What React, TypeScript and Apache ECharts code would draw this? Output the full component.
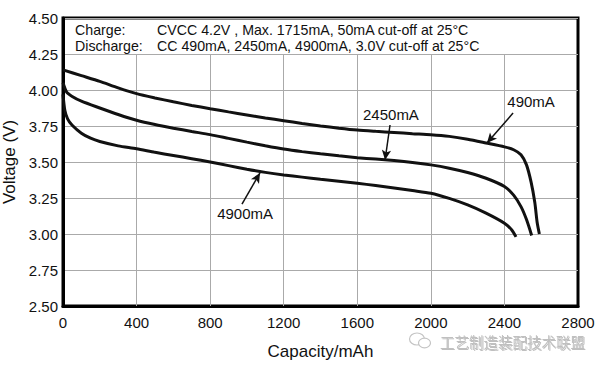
import React, { useEffect, useRef } from "react";
import * as echarts from "echarts";

// Axis ticks
const capacityTicks = [0, 400, 800, 1200, 1600, 2000, 2400, 2800];
const voltageTicks = [2.5, 2.75, 3.0, 3.25, 3.5, 3.75, 4.0, 4.25, 4.5];
const textBandBottom = 4.25;

// 490 mA discharge
const cap490 = [0, 100, 200, 300, 400, 500, 600, 700, 800, 900, 1000, 1100, 1200, 1300, 1400, 1500, 1600, 1700, 1800, 1900, 2000, 2100, 2200, 2300, 2400, 2450, 2490, 2520, 2545, 2565, 2578, 2590];
const volt490 = [4.14, 4.1, 4.06, 4.015, 3.975, 3.945, 3.918, 3.893, 3.87, 3.848, 3.827, 3.806, 3.787, 3.768, 3.75, 3.735, 3.722, 3.713, 3.705, 3.697, 3.69, 3.678, 3.658, 3.632, 3.605, 3.585, 3.55, 3.48, 3.36, 3.22, 3.08, 3.0];

// 2450 mA discharge
const cap2450 = [0, 20, 50, 100, 200, 300, 400, 500, 600, 700, 800, 900, 1000, 1100, 1200, 1300, 1400, 1500, 1600, 1700, 1800, 1900, 2000, 2100, 2200, 2300, 2400, 2450, 2490, 2520, 2548];
const volt2450 = [4.05, 3.985, 3.955, 3.922, 3.875, 3.83, 3.79, 3.76, 3.735, 3.712, 3.69, 3.664, 3.638, 3.613, 3.59, 3.572, 3.557, 3.543, 3.53, 3.52, 3.51, 3.497, 3.48, 3.457, 3.427, 3.387, 3.33, 3.27, 3.19, 3.1, 2.99];

// 4900 mA discharge
const cap4900 = [0, 10, 25, 50, 100, 150, 200, 300, 400, 500, 600, 700, 800, 900, 1000, 1100, 1200, 1300, 1400, 1500, 1600, 1700, 1800, 1900, 2000, 2100, 2200, 2300, 2400, 2440, 2463];
const volt4900 = [3.97, 3.86, 3.8, 3.755, 3.7, 3.665, 3.642, 3.612, 3.592, 3.567, 3.545, 3.523, 3.5, 3.475, 3.45, 3.428, 3.41, 3.395, 3.38, 3.366, 3.352, 3.337, 3.32, 3.302, 3.283, 3.247, 3.202, 3.145, 3.075, 3.028, 2.98];

// Annotations: label, label position, arrow start, arrow tip (data coords)
const annLabels = ["2450mA", "490mA", "4900mA"];
const annLabelPos = [[1783, 3.833], [2545, 3.917], [990, 3.139]];
const annArrowFrom = [[1778, 3.757], [2447, 3.84], [973, 3.208]];
const annArrowTo = [[1751, 3.514], [2305, 3.632], [1071, 3.424]];

const chargeLines = [
  ["Charge:", "CVCC 4.2V , Max. 1715mA, 50mA cut-off at 25°C"],
  ["Discharge:", "CC 490mA, 2450mA, 4900mA, 3.0V cut-off at 25°C"],
];

const FONT = "'Liberation Sans', Arial, Helvetica, sans-serif";

const zip = (xs: number[], ys: number[]) => xs.map((x, i) => [x, ys[i]]);

export default function App() {
  const ref = useRef<HTMLDivElement>(null);
  useEffect(() => {
    if (!ref.current) return;
    const chart = echarts.init(ref.current, null, { renderer: "svg" });

    const curveStyle = { color: "#111", width: 3 };
    const curve = (name: string, xs: number[], ys: number[]) => ({
      name,
      type: "line",
      data: zip(xs, ys),
      smooth: 0.25,
      showSymbol: false,
      symbol: "none",
      lineStyle: curveStyle,
      z: 5,
    });

    const gridMarkLines = capacityTicks
      .filter((x) => x > capacityTicks[0] && x < capacityTicks[capacityTicks.length - 1])
      .map((x) => [
        { coord: [x, voltageTicks[0]] },
        { coord: [x, textBandBottom] },
      ]);

    const arrowLines = annArrowFrom.map((p, i) => [
      { coord: p },
      { coord: annArrowTo[i] },
    ]);

    const labelPoints = annLabels.map((t, i) => ({
      name: t,
      coord: annLabelPos[i],
      value: t,
    }));

    const graphicTexts: any[] = [];
    chargeLines.forEach((row, i) => {
      graphicTexts.push({
        type: "text",
        x: 75,
        y: 30 + i * 15.5,
        style: { text: row[0], font: `14.2px ${FONT}`, fill: "#111", verticalAlign: "middle" },
      });
      graphicTexts.push({
        type: "text",
        x: 157,
        y: 30 + i * 15.5,
        style: { text: row[1], font: `14.2px ${FONT}`, fill: "#111", verticalAlign: "middle" },
      });
    });

    chart.setOption({
      animation: false,
      backgroundColor: "#fff",
      grid: {
        left: 63,
        right: 31,
        top: 18,
        bottom: 61,
        containLabel: false,
        outerBoundsMode: "none",
        show: true,
        borderColor: "#000",
        borderWidth: 3,
        backgroundColor: "transparent",
      },
      xAxis: {
        type: "value",
        min: 0,
        max: 2800,
        interval: 400,
        name: "Capacity/mAh",
        nameLocation: "middle",
        nameGap: 37,
        nameTextStyle: { fontSize: 17, color: "#111", fontFamily: FONT },
        axisLine: { show: true, lineStyle: { color: "#000", width: 3 } },
        axisTick: { show: false },
        axisLabel: {
          fontSize: 15,
          color: "#111",
          fontFamily: FONT,
          margin: 9,
          formatter: (v: number) => String(v),
        },
        splitLine: { show: false },
      },
      yAxis: {
        type: "value",
        min: 2.5,
        max: 4.5,
        interval: 0.25,
        name: "Voltage (V)",
        nameLocation: "middle",
        nameGap: 42,
        nameTextStyle: { fontSize: 17, color: "#111", fontFamily: FONT },
        axisLine: { show: true, lineStyle: { color: "#000", width: 3 } },
        axisTick: { show: false },
        axisLabel: {
          fontSize: 15,
          color: "#111",
          fontFamily: FONT,
          margin: 5,
          formatter: (v: number) => v.toFixed(2),
        },
        splitLine: { show: true, lineStyle: { color: "#aaa", width: 1 } },
      },
      graphic: [
        ...graphicTexts,
        {
          type: "ellipse",
          shape: { cx: 417, cy: 339, rx: 7.5, ry: 6 },
          style: { fill: "#fff", stroke: "#c4c4c4", lineWidth: 1.2 },
        },
        {
          type: "ellipse",
          shape: { cx: 424.5, cy: 343, rx: 6, ry: 4.8 },
          style: { fill: "#fff", stroke: "#c4c4c4", lineWidth: 1.2 },
        },
        {
          type: "text",
          x: 440,
          y: 341,
          style: {
            text: "工艺制造装配技术联盟",
            font: `14.5px 'Noto Sans CJK SC', sans-serif`,
            fill: "#c0c0c0",
            verticalAlign: "middle",
            textShadowColor: "rgba(0,0,0,0.25)",
            textShadowBlur: 1,
            textShadowOffsetX: 1,
            textShadowOffsetY: 1,
          },
        },
      ],
      series: [
        {
          name: "grid-helper",
          type: "line",
          data: [[0, 2.5]],
          showSymbol: false,
          symbol: "none",
          lineStyle: { opacity: 0 },
          silent: true,
          z: 1,
          markLine: {
            silent: true,
            symbol: ["none", "none"],
            label: { show: false },
            lineStyle: { color: "#aaa", width: 1, type: "solid" },
            data: gridMarkLines,
          },
        },
        {
          ...curve("490mA", cap490, volt490),
          markPoint: {
            symbol: "circle",
            symbolSize: 0,
            label: {
              show: true,
              position: "inside",
              formatter: (p: any) => p.name,
              fontSize: 15,
              color: "#111",
              fontFamily: FONT,
            },
            data: labelPoints,
          },
        },
        {
          ...curve("2450mA", cap2450, volt2450),
          markLine: {
            silent: true,
            symbol: ["none", "arrow"],
            symbolSize: [7, 10],
            label: { show: false },
            lineStyle: { color: "#111", width: 1.5, type: "solid" },
            data: arrowLines,
          },
        },
        curve("4900mA", cap4900, volt4900),
      ],
    });

    return () => chart.dispose();
  }, []);

  return (
    <div
      ref={ref}
      style={{ position: "fixed", left: 0, top: 0, width: 609, height: 367, background: "#fff" }}
    />
  );
}
